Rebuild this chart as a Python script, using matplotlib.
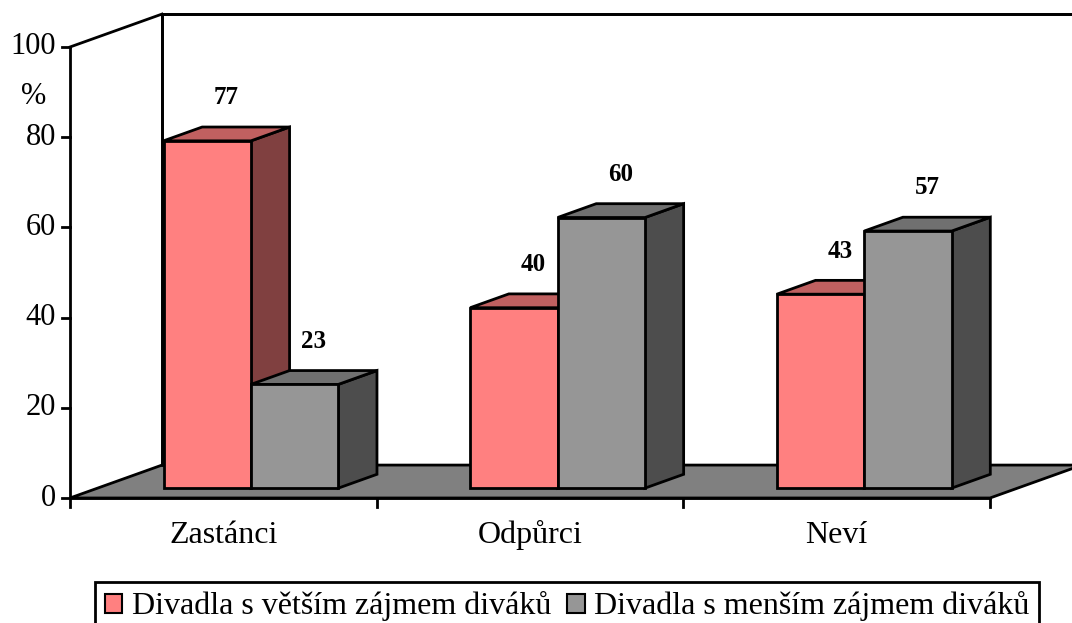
import matplotlib
matplotlib.use("Agg")
import matplotlib.pyplot as plt
from matplotlib.patches import Polygon, Patch

plt.rcParams['font.family'] = ['Liberation Serif', 'DejaVu Serif']

categories = ["Zastánci", "Odpůrci", "Neví"]
series_names = ["Divadla s větším zájmem diváků", "Divadla s menším zájmem diváků"]
more_interest = [77, 40, 43]
less_interest = [23, 60, 57]
y_ticks = [0, 20, 40, 60, 80, 100]

# face colours: front, top, side
red_faces = ("#FF8080", "#C06060", "#804040")
gray_faces = ("#969696", "#707070", "#4D4D4D")
floor_color = "#808080"

# depth of the 3D box, in data units (categories, percent)
DX, DY = 0.30, 7.3
F0, F1 = 0.30, 0.72      # bar front / back, as share of depth
BAR_W = 0.285
LW = 2.0

fig = plt.figure(figsize=(10.72, 6.23), dpi=100)
ax = fig.add_axes([70 / 1072, 125 / 623, 920 / 1072, 451 / 623])
ax.set_xlim(0, 3)
ax.set_ylim(0, 100)
ax.axis("off")


def poly(pts, fc, z=1):
    ax.add_patch(Polygon(pts, closed=True, facecolor=fc, edgecolor="black",
                         linewidth=LW, clip_on=False, zorder=z, joinstyle="miter"))


def line(xs, ys):
    ax.plot(xs, ys, color="black", lw=LW, clip_on=False, zorder=2,
            solid_capstyle="projecting")


# back wall and floor
poly([(DX, DY), (3.6, DY), (3.6, 100 + DY), (DX, 100 + DY)], "white", z=0)
line([0, DX], [100, 100 + DY])
line([DX, DX], [DY, 100 + DY])
line([DX, 3.6], [100 + DY, 100 + DY])
poly([(0, 0), (3, 0), (3 + DX, DY), (DX, DY)], floor_color, z=1)

# y axis with ticks
line([0, 0], [0, 100])
for t in y_ticks:
    ax.plot([-0.025, 0], [t, t], color="black", lw=LW, clip_on=False, zorder=2)
    ax.text(-0.045, t, str(t), ha="right", va="center", fontsize=22)
ax.text(-0.12, 89, "%", ha="center", va="center", fontsize=22)

# x axis with ticks
line([0, 3], [0, 0])
for i in range(4):
    ax.plot([i, i], [0, -2.0], color="black", lw=LW, clip_on=False, zorder=2)
for i, cat in enumerate(categories):
    ax.text(i + 0.5, -8.3, cat, ha="center", va="center", fontsize=23)


def bar3d(x0, v, faces):
    x1 = x0 + BAR_W
    ox0, oy0 = F0 * DX, F0 * DY
    ox1, oy1 = F1 * DX, F1 * DY
    front, top, side = faces
    poly([(x1 + ox0, oy0), (x1 + ox1, oy1), (x1 + ox1, v + oy1), (x1 + ox0, v + oy0)], side, z=3)
    poly([(x0 + ox0, v + oy0), (x1 + ox0, v + oy0), (x1 + ox1, v + oy1), (x0 + ox1, v + oy1)], top, z=3)
    poly([(x0 + ox0, oy0), (x1 + ox0, oy0), (x1 + ox0, v + oy0), (x0 + ox0, v + oy0)], front, z=3)
    ax.text(x0 + BAR_W / 2 + (F0 + F1) / 2 * DX, v + oy1 + 6.5, str(v),
            ha="center", va="center", fontsize=18, fontweight="bold", zorder=4)


for i in range(len(categories)):
    bar3d(i + 0.5 - BAR_W, more_interest[i], red_faces)
    bar3d(i + 0.5, less_interest[i], gray_faces)

handles = [Patch(facecolor=red_faces[0], edgecolor="black", linewidth=1.5),
           Patch(facecolor=gray_faces[0], edgecolor="black", linewidth=1.5)]
leg = fig.legend(handles, series_names, loc="upper center", bbox_to_anchor=(0.529, 0.066),
                 ncol=2, fontsize=23, frameon=True, fancybox=False, framealpha=1,
                 handlelength=0.55, handleheight=0.55, handletextpad=0.3,
                 columnspacing=0.5, borderpad=0.3, borderaxespad=0)
leg.get_frame().set_edgecolor("black")
leg.get_frame().set_linewidth(2.0)

fig.savefig("out.png", dpi=100)
